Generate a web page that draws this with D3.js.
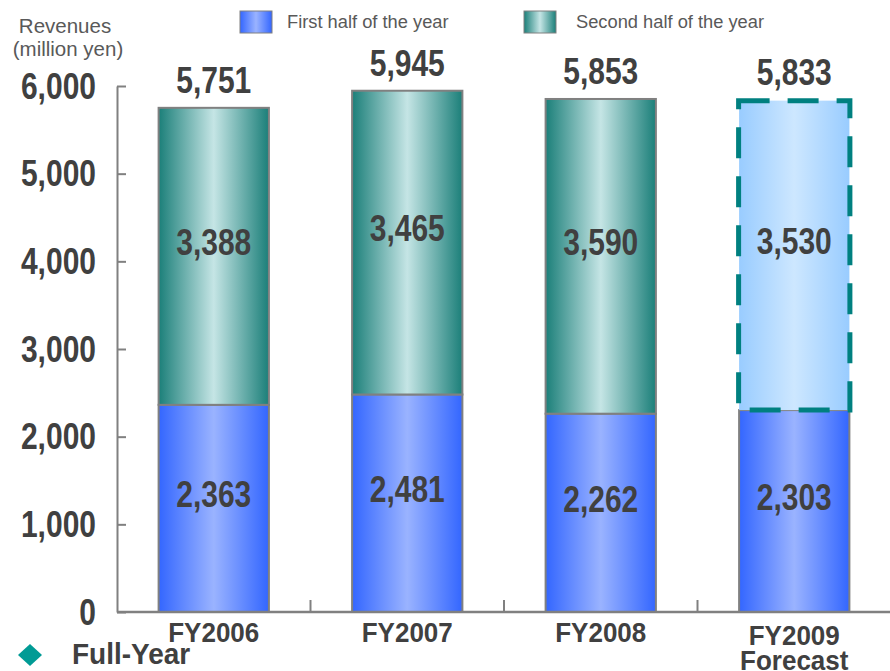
<!DOCTYPE html>
<html>
<head>
<meta charset="utf-8">
<script src="https://cdn.jsdelivr.net/npm/d3@7/dist/d3.min.js"></script>
<style>
  html, body { margin: 0; padding: 0; background: #fff; }
  svg { display: block; }
  text { font-family: "Liberation Sans", Arial, sans-serif; }
</style>
</head>
<body>
<svg id="chart" width="890" height="671"></svg>
<script>
// ---- data ----
const categories = ["FY2006", "FY2007", "FY2008", "FY2009"];
const categoryLines = [["FY2006"], ["FY2007"], ["FY2008"], ["FY2009", "Forecast"]];
const firstHalf = [2363, 2481, 2262, 2303];
const secondHalf = [3388, 3465, 3590, 3530];
const fullYear = [5751, 5945, 5853, 5833];
const isForecast = [false, false, false, true];
const yTicks = [0, 1000, 2000, 3000, 4000, 5000, 6000];
const seriesNames = ["First half of the year", "Second half of the year"];

// ---- setup ----
const svg = d3.select("#chart");
const textColor = "#404040";
const axisColor = "#808080";

const y = d3.scaleLinear().domain([0, 6000]).range([612, 86]);
const x = d3.scaleBand().domain(categories).range([117, 891])
  .paddingInner(0.43).paddingOuter(0.215);
const fmt = d3.format(",");

// gradients
const defs = svg.append("defs");
function hGrad(id, edge, center) {
  const g = defs.append("linearGradient").attr("id", id)
    .attr("x1", "0%").attr("x2", "100%").attr("y1", "0%").attr("y2", "0%");
  g.append("stop").attr("offset", "0%").attr("stop-color", edge);
  g.append("stop").attr("offset", "50%").attr("stop-color", center);
  g.append("stop").attr("offset", "100%").attr("stop-color", edge);
}
hGrad("gBlue", "#3366ff", "#9ab3ff");
hGrad("gTeal", "#1b7f79", "#c5e5e5");
hGrad("gLight", "#99ccff", "#cde7ff");

function stretched(sel, tx, ty, sy) {
  return sel.attr("transform", `translate(${tx},${ty}) scale(1,${sy})`);
}

// ---- bars ----
const barsG = svg.append("g");
categories.forEach((c, i) => {
  const bx = x(c), bw = x.bandwidth();
  barsG.append("rect")
    .attr("x", bx).attr("width", bw)
    .attr("y", y(firstHalf[i])).attr("height", y(0) - y(firstHalf[i]))
    .attr("fill", "url(#gBlue)")
    .attr("stroke", axisColor).attr("stroke-width", 2);
  const top = firstHalf[i] + secondHalf[i];
  if (!isForecast[i]) {
    barsG.append("rect")
      .attr("x", bx).attr("width", bw)
      .attr("y", y(top)).attr("height", y(firstHalf[i]) - y(top))
      .attr("fill", "url(#gTeal)")
      .attr("stroke", axisColor).attr("stroke-width", 2);
  } else {
    barsG.append("rect")
      .attr("x", bx).attr("width", bw)
      .attr("y", y(top)).attr("height", y(firstHalf[i]) - y(top))
      .attr("fill", "url(#gLight)");
    barsG.append("rect")
      .attr("x", bx - 0.5).attr("width", bw + 1)
      .attr("y", y(top)).attr("height", y(firstHalf[i]) - y(top))
      .attr("fill", "none")
      .attr("stroke", "#008080").attr("stroke-width", 5)
      .attr("stroke-dasharray", "31 18");
  }
});

// ---- axes ----
const yAxis = d3.axisLeft(y).tickValues(yTicks).tickSize(-9).tickSizeOuter(0).tickFormat("");
const yG = svg.append("g").attr("transform", "translate(117,0)").call(yAxis);
yG.selectAll("path, line").attr("stroke", axisColor).attr("stroke-width", 2);

svg.append("line")
  .attr("x1", 117).attr("x2", 890).attr("y1", y(0)).attr("y2", y(0))
  .attr("stroke", axisColor).attr("stroke-width", 2.5);
categories.slice(1).forEach(c => {
  const tx = x(c) - x.step() * x.paddingInner() / 2;
  svg.append("line")
    .attr("x1", tx).attr("x2", tx).attr("y1", y(0)).attr("y2", y(0) - 12)
    .attr("stroke", axisColor).attr("stroke-width", 2);
});

yTicks.forEach(t => {
  stretched(svg.append("text"), 96, y(t), 1.22)
    .attr("text-anchor", "end").attr("dy", "0.35em")
    .attr("font-size", 30).attr("font-weight", "bold")
    .attr("fill", textColor).text(fmt(t));
});

categoryLines.forEach((lines, i) => {
  const cx = x(categories[i]) + x.bandwidth() / 2;
  lines.forEach((ln, j) => {
    stretched(svg.append("text"), cx, (i === 3 ? 635 : 632) + j * 25, 1.08)
      .attr("text-anchor", "middle").attr("dy", "0.35em")
      .attr("font-size", 26).attr("font-weight", "bold")
      .attr("fill", textColor).text(ln);
  });
});

categories.forEach((c, i) => {
  const cx = x(c) + x.bandwidth() / 2;
  const top = firstHalf[i] + secondHalf[i];
  const lbl = (val, cy) => stretched(svg.append("text"), cx, cy, 1.22)
    .attr("text-anchor", "middle").attr("dy", "0.35em")
    .attr("font-size", 30).attr("font-weight", "bold")
    .attr("fill", textColor).text(fmt(val));
  lbl(firstHalf[i], (y(0) + y(firstHalf[i])) / 2 - 14);
  lbl(secondHalf[i], (y(firstHalf[i]) + y(top)) / 2 - 14);
  lbl(fullYear[i], y(fullYear[i]) - 28);
});

// ---- axis title ----
svg.append("text").attr("x", 65).attr("y", 33).attr("text-anchor", "middle")
  .attr("font-size", 20.5).attr("fill", "#595959").text("Revenues");
svg.append("text").attr("x", 68).attr("y", 56).attr("text-anchor", "middle")
  .attr("font-size", 20.5).attr("fill", "#595959").text("(million yen)");

// ---- legend ----
const legendItems = [
  { name: seriesNames[0], fill: "url(#gBlue)", x: 240, tx: 287 },
  { name: seriesNames[1], fill: "url(#gTeal)", x: 524, tx: 576 }
];
legendItems.forEach(d => {
  svg.append("rect").attr("x", d.x).attr("y", 11).attr("width", 32).attr("height", 22)
    .attr("fill", d.fill).attr("stroke", axisColor).attr("stroke-width", 1);
  svg.append("text").attr("x", d.tx).attr("y", 22).attr("dy", "0.35em")
    .attr("font-size", 18.3).attr("fill", "#595959").text(d.name);
});

// ---- Full-Year note ----
svg.append("path")
  .attr("d", "M0,-11L12,0L0,11L-12,0Z")
  .attr("transform", "translate(30,655)")
  .attr("fill", "#009b95");
stretched(svg.append("text"), 72, 654, 1.05)
  .attr("dy", "0.35em").attr("font-size", 28).attr("font-weight", "bold")
  .attr("fill", textColor).text("Full-Year");
</script>
</body>
</html>
